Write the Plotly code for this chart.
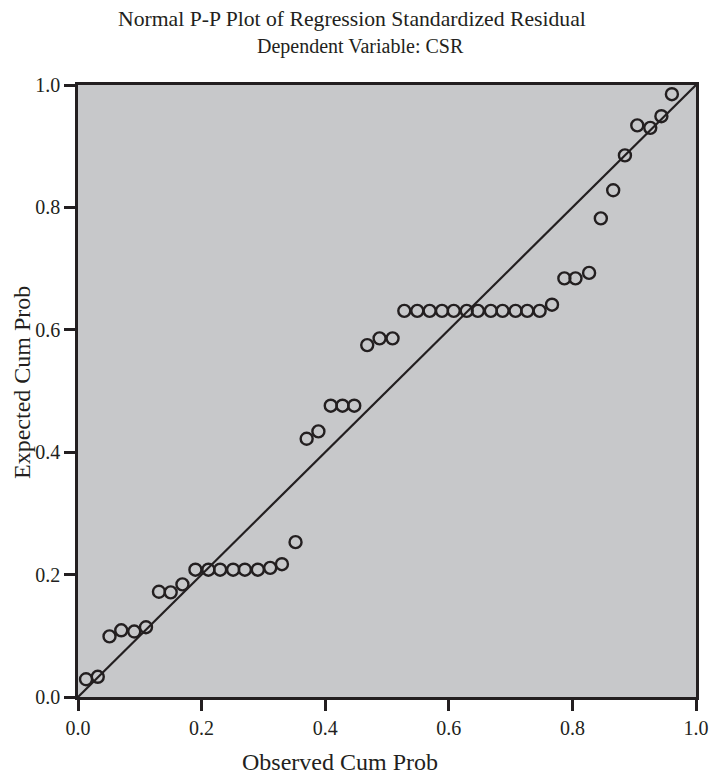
import plotly.graph_objects as go

observed = [0.013, 0.032, 0.051, 0.070, 0.091, 0.110, 0.131, 0.150, 0.169, 0.190,
            0.211, 0.230, 0.251, 0.270, 0.291, 0.311, 0.330, 0.352,
            0.370, 0.389, 0.409, 0.428, 0.447, 0.468, 0.488, 0.509,
            0.528, 0.549, 0.569, 0.589, 0.608, 0.629, 0.647, 0.668, 0.687, 0.708, 0.727, 0.747,
            0.767, 0.787, 0.805, 0.827, 0.846, 0.866, 0.885, 0.905, 0.926, 0.944, 0.961]
expected = [0.029, 0.033, 0.099, 0.109, 0.107, 0.114, 0.172, 0.171, 0.184, 0.208,
            0.208, 0.208, 0.208, 0.208, 0.208, 0.211, 0.217, 0.253,
            0.422, 0.434, 0.476, 0.476, 0.476, 0.575, 0.586, 0.586,
            0.631, 0.631, 0.631, 0.631, 0.631, 0.631, 0.631, 0.631, 0.631, 0.631, 0.631, 0.631,
            0.641, 0.684, 0.684, 0.693, 0.782, 0.828, 0.885, 0.934, 0.930, 0.949, 0.985]
ref_line = [0.0, 1.0]
tick_vals = [0.0, 0.2, 0.4, 0.6, 0.8, 1.0]
tick_text = ["0.0", "0.2", "0.4", "0.6", "0.8", "1.0"]
title_lines = ["Normal P-P Plot of Regression Standardized Residual",
               "Dependent Variable: CSR"]
x_title = "Observed Cum Prob"
y_title = "Expected Cum Prob"

INK = "#231f20"
FONT = "Liberation Serif"

# plot area geometry (pixels)
L, R, T, B = 78, 13, 85, 80
W, H = 709, 777
PW, PH = W - L - R, H - T - B


def px_x(px):
    return (px - L) / PW


def px_y(py):
    return (H - B - py) / PH


fig = go.Figure()
fig.add_trace(go.Scatter(x=ref_line, y=ref_line, mode="lines",
                         line=dict(color=INK, width=2.2), hoverinfo="skip", showlegend=False))
fig.add_trace(go.Scatter(x=observed, y=expected, mode="markers",
                         marker=dict(symbol="circle-open", size=12, color=INK,
                                     line=dict(width=2.4, color=INK)),
                         showlegend=False))

axis_common = dict(range=[0, 1], tickvals=tick_vals, ticktext=tick_text, automargin=False,
                   showgrid=False, zeroline=False, showline=True, linecolor=INK,
                   linewidth=2.5, mirror=True, ticks="outside", ticklen=11, tickwidth=2.5,
                   tickcolor=INK, tickfont=dict(family=FONT, size=20, color=INK))

fig.update_layout(
    width=W, height=H,
    margin=dict(l=L, r=R, t=T, b=B, autoexpand=False),
    paper_bgcolor="white", plot_bgcolor="#c7c8ca",
    font=dict(family=FONT, color=INK),
    xaxis=dict(**axis_common),
    yaxis=dict(**axis_common),
    annotations=[
        dict(text=title_lines[0], xref="paper", yref="paper",
             x=px_x(352), y=px_y(19), xanchor="center", yanchor="middle",
             showarrow=False, font=dict(family=FONT, size=21.7, color=INK)),
        dict(text=title_lines[1], xref="paper", yref="paper",
             x=px_x(360), y=px_y(46), xanchor="center", yanchor="middle",
             showarrow=False, font=dict(family=FONT, size=20, color=INK)),
        dict(text=x_title, xref="paper", yref="paper",
             x=px_x(340), y=px_y(762), xanchor="center", yanchor="middle",
             showarrow=False, font=dict(family=FONT, size=24, color=INK)),
        dict(text=y_title, xref="paper", yref="paper",
             x=px_x(22), y=px_y(383), xanchor="center", yanchor="middle",
             textangle=-90, showarrow=False, font=dict(family=FONT, size=24, color=INK)),
    ],
)

fig.write_html("out.html", config={"displayModeBar": False},
               post_script="document.body.style.margin='0px';document.body.style.overflow='hidden';")
